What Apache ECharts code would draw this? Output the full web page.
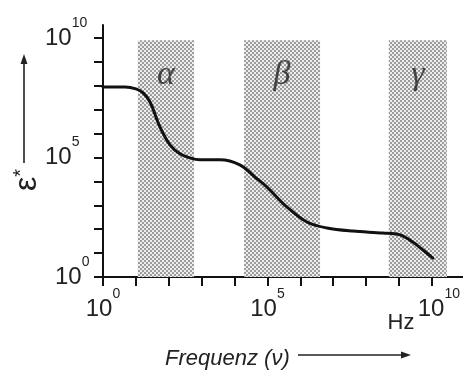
<!DOCTYPE html>
<html>
<head>
<meta charset="utf-8">
<script src="https://cdn.jsdelivr.net/npm/echarts@6/dist/echarts.min.js"></script>
<style>
html,body{margin:0;padding:0;background:#fff;}
#chart{width:463px;height:371px;}
</style>
</head>
<body>
<div id="chart"></div>
<script>
// log10 of frequency (Hz) and log10 of permittivity
const logFreq = [0, 0.67, 1.00, 1.22, 1.43, 1.73, 2.04, 2.34, 2.64, 2.95, 3.56, 4.16, 4.62, 4.98, 5.59, 6.20, 6.81, 7.60, 8.51, 9.03, 9.42, 9.73, 10.03];
const logEps  = [7.95, 7.95, 7.87, 7.70, 7.32, 6.28, 5.52, 5.15, 4.98, 4.90, 4.90, 4.69, 4.18, 3.77, 2.93, 2.30, 2.05, 1.92, 1.84, 1.76, 1.46, 1.13, 0.79];
// dispersion regions (log10 Hz)
const bandNames = ['α', 'β', 'γ'];
const bandStart = [1.06, 4.29, 8.69];
const bandEnd   = [2.77, 6.60, 10.46];
const bandTop = 9.9;
const bandLabelY = 8.45;
// ticks (decades)
const tickDecades = [0,1,2,3,4,5,6,7,8,9,10];
const labelDecades = [0,5,10];

const tile = document.createElement('canvas');
tile.width = 4; tile.height = 4;
const tc = tile.getContext('2d');
tc.fillStyle = '#ededed'; tc.fillRect(0,0,4,4);
tc.fillStyle = '#9c9c9c'; tc.fillRect(0,0,2,2); tc.fillRect(2,2,2,2);
const pattern = {image: tile, repeat: 'repeat'};

const chart = echarts.init(document.getElementById('chart'), null, {renderer: 'canvas'});
const FONT = '"Liberation Sans", Arial, sans-serif';

const baseRich = {
  b:  {fontSize: 24, lineHeight: 44, fontFamily: FONT, color: '#222'},
  bw: {fontSize: 24, lineHeight: 44, fontFamily: FONT, color: '#222', padding: [0,0,0,14]},
  b0: {fontSize: 24, lineHeight: 44, fontFamily: FONT, color: '#222', padding: [0,0,0,10]},
  s:  {fontSize: 14, lineHeight: 14, fontFamily: FONT, color: '#222', verticalAlign: 'top'}
};

const curve = logFreq.map((x, i) => [x, logEps[i]]);

chart.setOption({
  backgroundColor: '#fff',
  animation: false,
  grid: {left: 103, right: 0, top: 25, bottom: 94, containLabel: false},
  xAxis: {
    type: 'value', min: 0, max: 10.94,
    axisLine: {show: true, lineStyle: {color: '#111', width: 2}},
    axisTick: {show: true, length: 9, customValues: tickDecades, lineStyle: {color: '#111', width: 2}},
    axisLabel: {
      show: true, margin: 10, customValues: labelDecades,
      formatter: v => v === 10 ? '{bw|10}{s|10}' : '{b|10}{s|' + v + '}',
      rich: baseRich
    },
    splitLine: {show: false}
  },
  yAxis: {
    type: 'value', min: 0, max: 10.54,
    axisLine: {show: true, lineStyle: {color: '#111', width: 2}},
    axisTick: {show: true, length: 9, customValues: tickDecades, lineStyle: {color: '#111', width: 2}},
    axisLabel: {
      show: true, margin: 58, align: 'left', customValues: labelDecades,
      formatter: v => v === 0 ? '{b0|10}{s|0}' : '{b|10}{s|' + v + '}',
      rich: baseRich
    },
    splitLine: {show: false}
  },
  series: [
    {
      type: 'line', data: curve, smooth: 0.35, symbol: 'none',
      lineStyle: {color: '#111', width: 3, cap: 'round'},
      z: 5,
      markArea: {
        silent: true,
        itemStyle: {color: pattern},
        data: bandStart.map((s, i) => [{xAxis: s, yAxis: 0}, {xAxis: bandEnd[i], yAxis: bandTop}])
      }
    },
    {
      type: 'scatter', symbolSize: 0, z: 6,
      data: bandNames.map((n, i) => ({value: [(bandStart[i] + bandEnd[i]) / 2, bandLabelY], name: n})),
      label: {
        show: true, position: 'inside', formatter: p => p.name,
        fontFamily: '"Liberation Serif", "Times New Roman", serif', fontStyle: 'italic',
        fontSize: 34, color: '#222'
      }
    }
  ],
  graphic: [
    // y-axis quantity and arrow
    {type: 'text', x: 27, y: 180, rotation: Math.PI / 2, style: {
      text: '{e|ε}{a|*}', align: 'center', verticalAlign: 'middle',
      rich: {
        e: {fontSize: 32, fontFamily: FONT, fill: '#222', verticalAlign: 'bottom'},
        a: {fontSize: 20, fontFamily: FONT, fill: '#222', verticalAlign: 'top'}
      }
    }},
    {type: 'line', shape: {x1: 24, y1: 163, x2: 24, y2: 60}, style: {stroke: '#222', lineWidth: 1.6}},
    {type: 'polygon', shape: {points: [[24, 54], [20.5, 64], [27.5, 64]]}, style: {fill: '#222'}},
    // x-axis unit and quantity
    {type: 'text', x: 401, y: 323, style: {text: 'Hz', font: '22px ' + FONT, fill: '#222', align: 'center', verticalAlign: 'middle'}},
    {type: 'text', x: 165, y: 359, style: {text: 'Frequenz (ν)', font: 'italic 22px ' + FONT, fill: '#222', align: 'left', verticalAlign: 'middle'}},
    {type: 'line', shape: {x1: 298, y1: 355, x2: 404, y2: 355}, style: {stroke: '#222', lineWidth: 1.6}},
    {type: 'polygon', shape: {points: [[411, 355], [401, 351.5], [401, 358.5]]}, style: {fill: '#222'}}
  ]
});
</script>
</body>
</html>
